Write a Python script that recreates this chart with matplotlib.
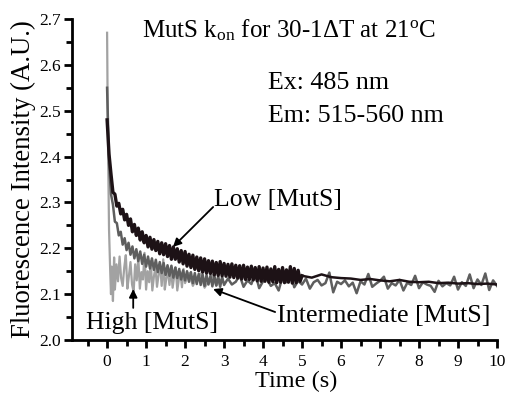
import numpy as np
import matplotlib
matplotlib.use("Agg")
import matplotlib.pyplot as plt
from matplotlib.ticker import MultipleLocator

plt.rcParams['font.family'] = ['Liberation Serif', 'DejaVu Serif']
plt.rcParams['mathtext.fontset'] = 'custom'
plt.rcParams['mathtext.rm'] = 'Liberation Serif'
plt.rcParams['mathtext.it'] = 'Liberation Serif:italic'

# ---------------- data ----------------
# Low [MutS]: noisy part 0-5 s sampled every 0.05 s, then averaged tail
low_t_noisy = np.round(np.arange(0, 5.001, 0.05), 2)
low_v_noisy = [
    2.480, 2.405, 2.362, 2.322, 2.318, 2.292, 2.298, 2.275, 2.285, 2.262,
    2.274, 2.250, 2.264, 2.236, 2.252, 2.228, 2.244, 2.218, 2.236, 2.212,
    2.228, 2.203, 2.224, 2.198, 2.219, 2.195, 2.215, 2.188, 2.212, 2.186,
    2.210, 2.182, 2.206, 2.176, 2.203, 2.176, 2.199, 2.170, 2.195, 2.166,
    2.193, 2.161, 2.187, 2.158, 2.185, 2.154, 2.181, 2.151, 2.179, 2.148,
    2.177, 2.146, 2.173, 2.145, 2.172, 2.142, 2.169, 2.141, 2.171, 2.140,
    2.167, 2.139, 2.165, 2.137, 2.166, 2.136, 2.163, 2.135, 2.162, 2.133,
    2.163, 2.132, 2.159, 2.132, 2.161, 2.131, 2.158, 2.129, 2.160, 2.128,
    2.157, 2.128, 2.159, 2.126, 2.155, 2.127, 2.160, 2.125, 2.154, 2.126,
    2.158, 2.125, 2.153, 2.126, 2.160, 2.124, 2.156, 2.125, 2.152, 2.128,
    2.140]
low_t_tail = [5.0, 5.25, 5.5, 5.75, 6.0, 6.25, 6.5, 6.75, 7.0, 7.25, 7.5,
              7.75, 8.0, 8.25, 8.5, 8.75, 9.0, 9.25, 9.5, 9.75, 10.0]
low_v_tail = [2.140, 2.136, 2.143, 2.137, 2.135, 2.134, 2.131, 2.133, 2.130,
              2.128, 2.131, 2.127, 2.126, 2.127, 2.124, 2.125, 2.123, 2.124,
              2.122, 2.123, 2.121]

# Intermediate [MutS]: 0-3 s every 0.05 s, 3.1-10 s every 0.1 s
mid_t = np.concatenate([np.round(np.arange(0, 3.001, 0.05), 2),
                        np.round(np.arange(3.1, 10.001, 0.1), 2)])
mid_v = [
    2.550, 2.385, 2.318, 2.295, 2.258, 2.255, 2.228, 2.236, 2.208, 2.222,
    2.196, 2.212, 2.186, 2.204, 2.178, 2.198, 2.172, 2.193, 2.166, 2.186,
    2.160, 2.182, 2.156, 2.178, 2.153, 2.175, 2.148, 2.170, 2.146, 2.168,
    2.142, 2.163, 2.140, 2.162, 2.136, 2.158, 2.135, 2.155, 2.132, 2.152,
    2.130, 2.150, 2.127, 2.148, 2.124, 2.146, 2.122, 2.144, 2.120, 2.143,
    2.118, 2.142, 2.121, 2.140, 2.117, 2.141, 2.119, 2.139, 2.116, 2.138,
    2.120,
    2.134, 2.121, 2.127, 2.141, 2.116, 2.130, 2.122, 2.146, 2.113, 2.128,
    2.133, 2.118, 2.124, 2.108, 2.138, 2.126, 2.150, 2.115, 2.129, 2.121,
    2.134, 2.112, 2.126, 2.131, 2.119, 2.124, 2.147, 2.104, 2.127, 2.122,
    2.130, 2.117, 2.125, 2.102, 2.128, 2.121, 2.144, 2.116, 2.123, 2.129,
    2.138, 2.112, 2.124, 2.119, 2.131, 2.108, 2.125, 2.120, 2.140, 2.113,
    2.126, 2.121, 2.118, 2.105, 2.129, 2.117, 2.124, 2.119, 2.138, 2.110,
    2.126, 2.118, 2.143, 2.113, 2.132, 2.120, 2.145, 2.109, 2.130, 2.118]

# High [MutS]
high_t = [0.0, 0.02, 0.05, 0.08, 0.10, 0.12, 0.15, 0.18, 0.20,
          0.24, 0.28, 0.32, 0.36, 0.40, 0.44, 0.48, 0.52, 0.56, 0.60,
          0.64, 0.68, 0.72, 0.76, 0.80, 0.84, 0.88, 0.92, 0.96, 1.00,
          1.04, 1.08, 1.12, 1.16, 1.20, 1.24, 1.28, 1.32, 1.36, 1.40,
          1.44, 1.48, 1.52, 1.56, 1.60, 1.64, 1.68, 1.72, 1.76, 1.80,
          1.84, 1.88, 1.92, 1.96, 2.00, 2.1, 2.2, 2.3, 2.4, 2.5, 2.6,
          2.7, 2.8, 2.9, 3.0]
high_v = [2.670, 2.450, 2.240, 2.150, 2.100, 2.160, 2.085, 2.180, 2.110,
          2.165, 2.128, 2.182, 2.135, 2.118, 2.158, 2.185, 2.112, 2.140, 2.170,
          2.121, 2.105, 2.165, 2.130, 2.180, 2.112, 2.148, 2.132, 2.190, 2.110,
          2.150, 2.126, 2.172, 2.108, 2.138, 2.158, 2.116, 2.142, 2.165, 2.118,
          2.176, 2.110, 2.135, 2.150, 2.120, 2.160, 2.114, 2.138, 2.158, 2.108,
          2.132, 2.148, 2.115, 2.155, 2.124, 2.146, 2.118, 2.136, 2.145, 2.114,
          2.128, 2.142, 2.118, 2.131, 2.125]

x_ticks = [0, 1, 2, 3, 4, 5, 6, 7, 8, 9, 10]
y_ticks = [2.0, 2.1, 2.2, 2.3, 2.4, 2.5, 2.6, 2.7]

# ---------------- figure ----------------
fig = plt.figure(figsize=(5.05, 3.96), dpi=100)
ax = fig.add_axes([72 / 505, 1 - 340 / 396, (497 - 72) / 505, (340 - 19) / 396])

c_low = '#1d1216'
c_mid = '#5e5e5e'
c_high = '#a2a2a2'

ax.plot(high_t, high_v, color=c_high, lw=1.6, zorder=2)
ax.plot(mid_t, mid_v, color=c_mid, lw=1.8, zorder=3)
ax.plot(low_t_noisy, low_v_noisy, color=c_low, lw=2.4, zorder=4)
ax.plot(low_t_tail, low_v_tail, color=c_low, lw=1.8, zorder=4)

ax.set_xlim(-0.9, 10)
ax.set_ylim(2.0, 2.7)
ax.set_xticks(x_ticks)
ax.set_yticks(y_ticks)
ax.set_yticklabels([f"{v:.1f}" for v in y_ticks])
ax.xaxis.set_minor_locator(MultipleLocator(0.5))
ax.yaxis.set_minor_locator(MultipleLocator(0.05))

for s in ['top', 'right']:
    ax.spines[s].set_visible(False)
for s in ['left', 'bottom']:
    ax.spines[s].set_linewidth(2.0)

ax.tick_params(axis='both', which='major', direction='out', length=6, width=2,
               labelsize=12.5, pad=2)
ax.tick_params(axis='both', which='minor', direction='out', length=4, width=2)
ax.tick_params(axis='x', which='major', pad=4)

ax.set_ylabel('Fluorescence Intensity (A.U.)', fontsize=19.3, labelpad=2)
fig.text(296 / 505, 1 - 381 / 396, 'Time (s)', ha='center', va='center',
         fontsize=17.5)

fig.text(289 / 505, 1 - 30 / 396,
         r'MutS k$_{\mathrm{on}}$ for 30-1ΔT at 21$^{\mathrm{o}}$C',
         ha='center', va='center', fontsize=18)
fig.text(268 / 505, 1 - 83 / 396, 'Ex: 485 nm', ha='left', va='center', fontsize=18.7)
fig.text(268 / 505, 1 - 116 / 396, 'Em: 515-560 nm', ha='left', va='center', fontsize=18.7)

arrow = dict(arrowstyle='-|>', color='black', lw=1.3, mutation_scale=12,
             shrinkA=0, shrinkB=0)
ax.text(2.75, 2.305, 'Low [MutS]', ha='left', va='center', fontsize=18.5)
ax.annotate('', xy=(1.69, 2.203), xytext=(2.72, 2.29), arrowprops=arrow)
ax.annotate('', xy=(0.67, 2.111), xytext=(0.67, 2.07), arrowprops=arrow)
ax.text(-0.55, 2.037, 'High [MutS]', ha='left', va='center', fontsize=18.5)
ax.text(4.37, 2.052, 'Intermediate [MutS]', ha='left', va='center', fontsize=18.7)
ax.annotate('', xy=(2.72, 2.111), xytext=(4.31, 2.061), arrowprops=arrow)

fig.savefig('out.png', dpi=100)
